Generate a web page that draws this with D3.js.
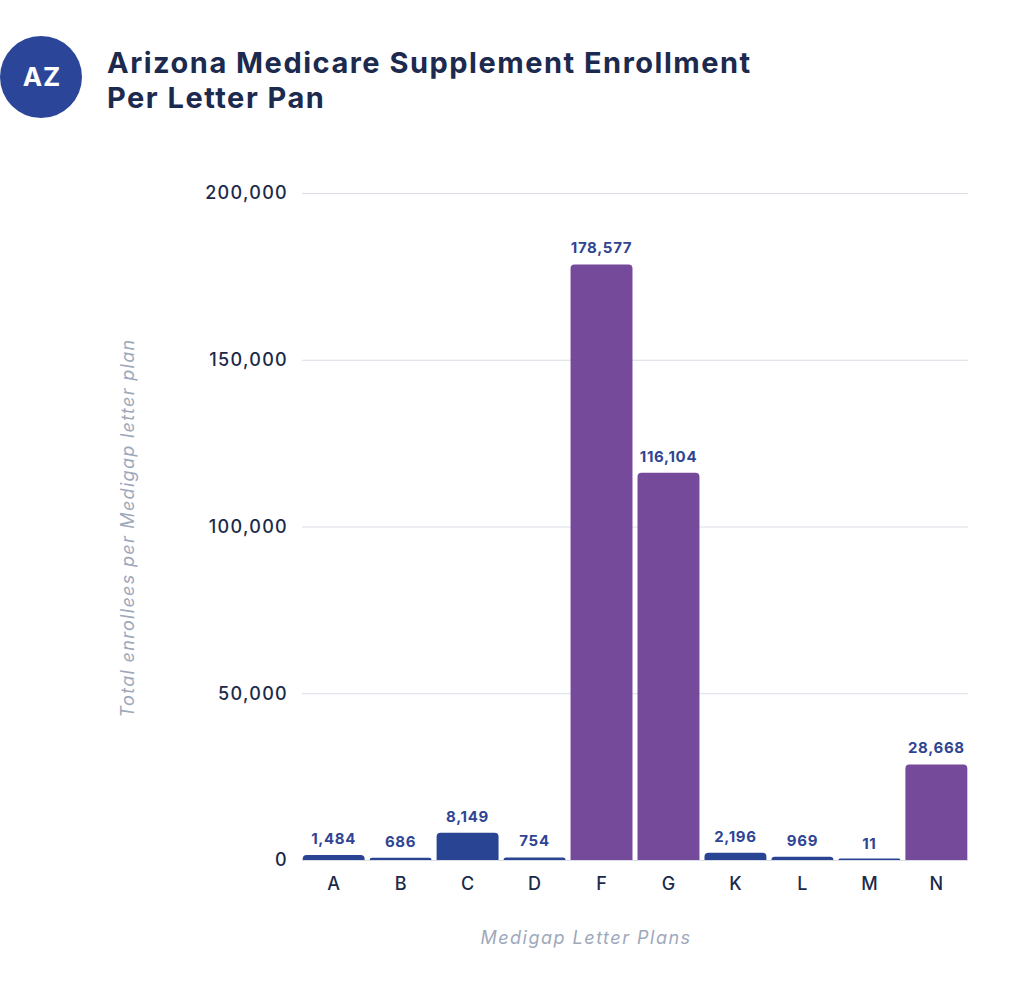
<!DOCTYPE html>
<html><head><meta charset="utf-8">
<script src="https://cdn.jsdelivr.net/npm/d3@7"></script>
<style>body{margin:0;background:#fff;} svg{display:block;}</style>
</head><body>
<svg id="chart" width="1024" height="985"></svg>
<script>
const categories = ["A","B","C","D","F","G","K","L","M","N"];
const values = [1484, 686, 8149, 754, 178577, 116104, 2196, 969, 11, 28668];
const highlight = ["F","G","N"];
const yTicks = [0, 50000, 100000, 150000, 200000];

const FONT = "Inter, 'Open Sans', 'DejaVu Sans', sans-serif";
const svg = d3.select("#chart");
const m = {left: 302, right: 968, top: 193, bottom: 860};

const x = d3.scaleBand().domain(categories).range([m.left, m.right]).paddingInner(0.075).paddingOuter(0.01);
const y = d3.scaleLinear().domain([0, 200000]).range([m.bottom, m.top]);

// header
svg.append("circle").attr("cx", 41).attr("cy", 77).attr("r", 41).attr("fill", "#2b4699");
svg.append("text").attr("x", 42).attr("y", 86).attr("text-anchor", "middle")
  .attr("font-family", FONT).attr("font-weight", 700).attr("font-size", 26).attr("letter-spacing", 1)
  .attr("fill", "#fff").text("AZ");
const title = svg.append("text").attr("font-family", FONT).attr("font-weight", 700).attr("font-size", 29)
  .attr("letter-spacing", 1.5).attr("fill", "#1b2a4e");
title.append("tspan").attr("x", 107).attr("y", 73).text("Arizona Medicare Supplement Enrollment");
title.append("tspan").attr("x", 107).attr("y", 108).text("Per Letter Pan");

// grid
const yAxis = d3.axisLeft(y).tickValues(yTicks).tickSize(-(m.right - m.left)).tickPadding(14)
  .tickFormat(d3.format(","));
const gy = svg.append("g").attr("transform", `translate(${m.left},0)`).call(yAxis);
gy.select(".domain").remove();
gy.selectAll(".tick line").attr("stroke", "#d9dee6").attr("stroke-width", 1);
gy.selectAll(".tick text").attr("font-family", FONT).attr("font-size", 18).attr("letter-spacing", 1.3)
  .attr("fill", "#1b2a4a").attr("font-weight", 500);

// bars with rounded top
function barPath(d, i) {
  const x0 = x(categories[i]), w = x.bandwidth();
  const y0 = Math.min(y(d), m.bottom - 1.5), h = m.bottom - y0;
  const r = Math.min(4, h, w / 2);
  return `M${x0},${m.bottom}V${y0 + r}Q${x0},${y0} ${x0 + r},${y0}H${x0 + w - r}Q${x0 + w},${y0} ${x0 + w},${y0 + r}V${m.bottom}Z`;
}
svg.append("g").selectAll("path").data(values).join("path")
  .attr("d", barPath)
  .attr("fill", (d, i) => highlight.includes(categories[i]) ? "#764a9b" : "#2a4494");

// value labels
svg.append("g").selectAll("text").data(values).join("text")
  .attr("x", (d, i) => x(categories[i]) + x.bandwidth() / 2)
  .attr("y", d => y(d) - 11)
  .attr("text-anchor", "middle")
  .attr("font-family", FONT).attr("font-weight", 700).attr("font-size", 15).attr("letter-spacing", 0.7)
  .attr("fill", "#2f4593")
  .text(d => d3.format(",")(d));

// x axis
const gx = svg.append("g").attr("transform", `translate(0,${m.bottom})`)
  .call(d3.axisBottom(x).tickSize(0).tickPadding(17));
gx.select(".domain").remove();
gx.selectAll(".tick text").attr("font-family", FONT).attr("font-size", 18).attr("fill", "#1b2a4a").attr("font-weight", 500);

// axis titles
svg.append("text").attr("transform", "translate(134,528) rotate(-90)").attr("text-anchor", "middle")
  .attr("font-family", FONT).attr("font-style", "italic").attr("font-size", 18).attr("letter-spacing", 1.3)
  .attr("fill", "#9ea8bb")
  .text("Total enrollees per Medigap letter plan");
svg.append("text").attr("x", 586).attr("y", 944).attr("text-anchor", "middle")
  .attr("font-family", FONT).attr("font-style", "italic").attr("font-size", 18).attr("letter-spacing", 1.5)
  .attr("fill", "#9ea8bb")
  .text("Medigap Letter Plans");
</script>
</body></html>
